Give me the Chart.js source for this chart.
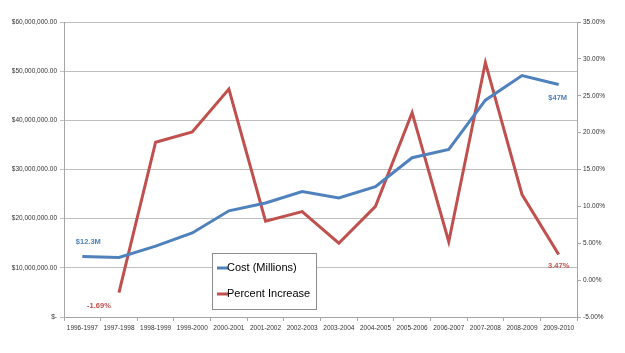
<!DOCTYPE html>
<html>
<head>
<meta charset="utf-8">
<script src="https://cdn.jsdelivr.net/npm/chart.js@4"></script>
<style>
  html, body { margin: 0; padding: 0; background: #fff; }
  #wrap { width: 625px; height: 353px; }
</style>
</head>
<body>
<div id="wrap"><canvas id="chart" width="625" height="353"></canvas></div>
<script>
const years = ['1996-1997', '1997-1998', '1998-1999', '1999-2000', '2000-2001', '2001-2002', '2002-2003',
  '2003-2004', '2004-2005', '2005-2006', '2006-2007', '2007-2008', '2008-2009', '2009-2010'];

// cost in dollars
const cost = [12300000, 12100000, 14400000, 17100000, 21600000, 23200000, 25500000,
  24200000, 26500000, 32400000, 34100000, 44100000, 49100000, 47300000];

// percent increase over the previous year
const pctIncrease = [null, -1.69, 18.7, 20.1, 25.9, 8.0, 9.3, 5.0, 10.0, 22.7, 5.2, 29.5, 11.6, 3.47];

// callout labels: [dataset index, point index, text, dx, dy]
const callouts = [
  [0, 0, '$12.3M', 6, -15],
  [0, 13, '$47M', -1, 13],
  [1, 1, '-1.69%', -20, 13],
  [1, 13, '3.47%', 0, 11]
];

const BLUE = '#4f81bd';
const RED = '#c0504d';
const FONT = '"Liberation Sans", Arial, sans-serif';

// data labels + legend box drawn inside the plot
const extras = {
  id: 'extras',
  afterDatasetsDraw(chart) {
    const ctx = chart.ctx;
    ctx.save();
    ctx.font = 'bold 7.5px ' + FONT;
    ctx.textAlign = 'center';
    ctx.textBaseline = 'middle';
    callouts.forEach(([ds, i, txt, dx, dy]) => {
      const pt = chart.getDatasetMeta(ds).data[i];
      ctx.fillStyle = chart.data.datasets[ds].borderColor;
      ctx.fillText(txt, pt.x + dx, pt.y + dy);
    });

    // legend
    const bx = 212, by = 253, bw = 104, bh = 56;
    ctx.fillStyle = '#fff';
    ctx.fillRect(bx, by, bw, bh);
    ctx.strokeStyle = '#8c8c8c';
    ctx.lineWidth = 1;
    ctx.strokeRect(bx + 0.5, by + 0.5, bw, bh);
    ctx.font = '11px ' + FONT;
    ctx.textAlign = 'left';
    chart.data.datasets.forEach((d, k) => {
      const y = by + 15 + k * 26;
      ctx.strokeStyle = d.borderColor;
      ctx.lineWidth = 3;
      ctx.beginPath();
      ctx.moveTo(bx + 5, y);
      ctx.lineTo(bx + 16, y);
      ctx.stroke();
      ctx.fillStyle = '#000';
      ctx.fillText(d.label, bx + 15, y);
    });
    ctx.restore();
  }
};

new Chart(document.getElementById('chart'), {
  type: 'line',
  data: {
    labels: years,
    datasets: [
      {
        label: 'Cost (Millions)',
        data: cost,
        yAxisID: 'y',
        borderColor: BLUE,
        backgroundColor: BLUE,
        borderWidth: 3,
        pointRadius: 0,
        tension: 0,
        fill: false
      },
      {
        label: 'Percent Increase',
        data: pctIncrease,
        yAxisID: 'y1',
        borderColor: RED,
        backgroundColor: RED,
        borderWidth: 3,
        pointRadius: 0,
        tension: 0,
        fill: false
      }
    ]
  },
  options: {
    responsive: false,
    animation: false,
    layout: { padding: { top: 22, left: 0, right: 0, bottom: 0 } },
    plugins: {
      legend: { display: false },
      tooltip: { enabled: false }
    },
    scales: {
      x: {
        offset: true,
        grid: { offset: true, drawOnChartArea: false, tickLength: 4, color: '#a6a6a6' },
        border: { color: '#a6a6a6' },
        ticks: {
          autoSkip: false, maxRotation: 0, padding: 3,
          color: '#333', font: { family: FONT, size: 6.5 }
        },
        afterFit(s) { s.height = 36; }
      },
      y: {
        position: 'left',
        min: 0,
        max: 60000000,
        grid: { color: '#bfbfbf', tickLength: 4, lineWidth: 1 },
        border: { color: '#a6a6a6' },
        ticks: {
          stepSize: 10000000, padding: 3,
          color: '#333', font: { family: FONT, size: 6.5 },
          callback: v => v === 0 ? '$-' : '$' + v.toLocaleString('en-US', { minimumFractionDigits: 2 })
        },
        afterFit(s) { s.width = 64; }
      },
      y1: {
        position: 'right',
        min: -5,
        max: 35,
        grid: { drawOnChartArea: false, tickLength: 4, color: '#a6a6a6' },
        border: { color: '#a6a6a6' },
        ticks: {
          stepSize: 5, padding: 2,
          color: '#333', font: { family: FONT, size: 6.5 },
          callback: v => v.toFixed(2) + '%'
        },
        afterFit(s) { s.width = 48; }
      }
    }
  },
  plugins: [extras]
});
</script>
</body>
</html>
